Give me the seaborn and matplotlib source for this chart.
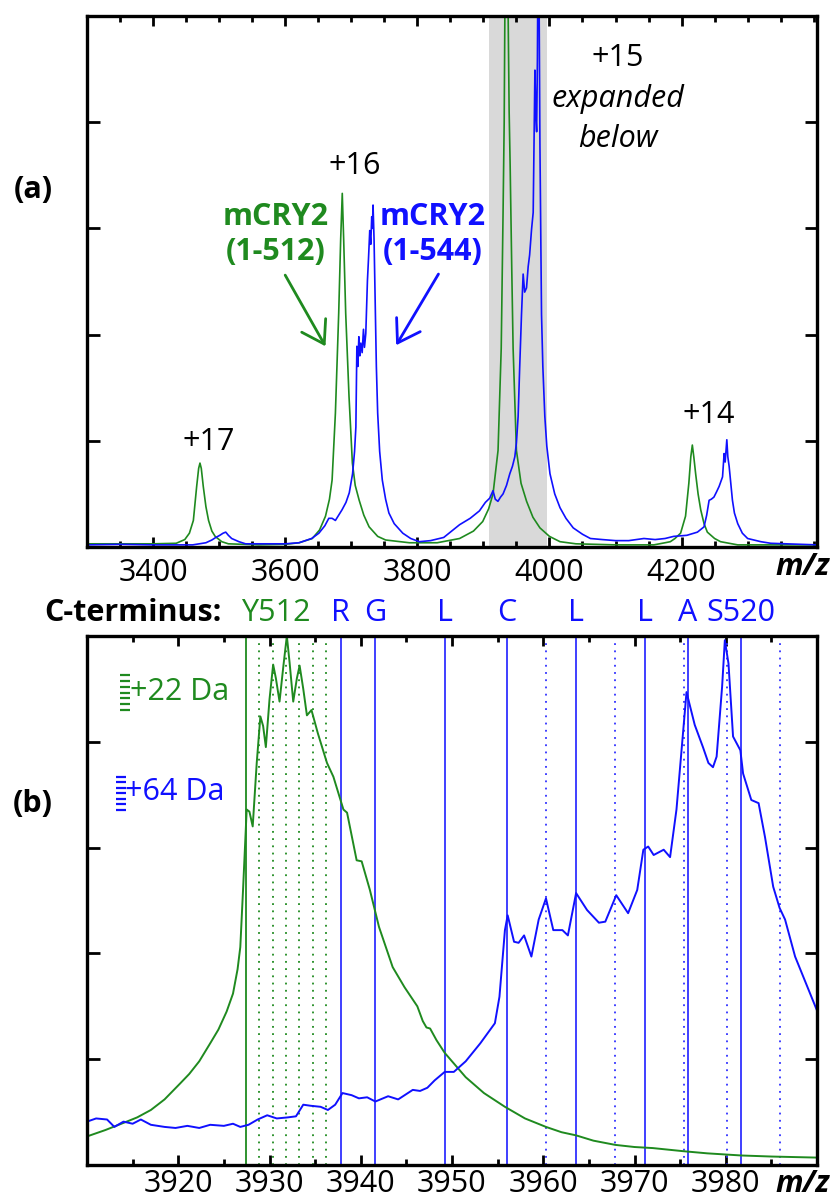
import matplotlib
matplotlib.use("Agg")
import matplotlib.pyplot as plt
import seaborn as sns
from matplotlib.patches import FancyArrowPatch
import matplotlib.transforms as mtransforms

# ---------------- data: panel (a) ----------------
green_a_mz = [3300, 3400, 3435, 3448, 3455, 3461, 3466, 3469, 3471, 3473, 3476, 3480, 3484, 3489, 3494,
              3504, 3514, 3560, 3600, 3621, 3641, 3652, 3661, 3667, 3671, 3676, 3681, 3684, 3686.4, 3688.5,
              3691.6, 3696.6, 3701.7, 3706, 3712, 3719, 3727, 3740, 3752, 3788, 3830, 3864, 3885, 3899,
              3908, 3914.6, 3922.2, 3927, 3929.8, 3931.5, 3932.5, 3934, 3935, 3936, 3937.5, 3939, 3940.5,
              3943, 3945, 3950, 3957, 3965.4, 3975, 3985.6, 4000, 4016, 4040, 4100, 4158, 4175, 4183, 4190,
              4198.5, 4206, 4211, 4214, 4216.3, 4218.5, 4221.3, 4225, 4229, 4234, 4239, 4250, 4259, 4285, 4405]
green_a_int = [0.03, 0.03, 0.035, 0.07, 0.13, 0.25, 0.57, 0.74, 0.79, 0.74, 0.57, 0.38, 0.25, 0.15, 0.10,
               0.05, 0.03, 0.02, 0.025, 0.04, 0.08, 0.16, 0.29, 0.45, 0.63, 1.26, 2.20, 2.90, 3.33, 2.90,
               2.20, 1.42, 0.79, 0.58, 0.44, 0.30, 0.19, 0.10, 0.066, 0.04, 0.04, 0.08, 0.15, 0.24,
               0.36, 0.50, 0.91, 1.87, 3.15, 4.0, 5.0, 6.1, 6.4, 6.1, 5.0, 4.1, 3.6,
               2.6, 1.87, 0.91, 0.60, 0.43, 0.28, 0.18, 0.10, 0.05, 0.03, 0.02, 0.02, 0.04, 0.05, 0.08,
               0.13, 0.29, 0.60, 0.85, 0.96, 0.85, 0.69, 0.50, 0.35, 0.22, 0.14, 0.08, 0.05, 0.02, 0.02]

blue_a_mz = [3300, 3350, 3400, 3460, 3480, 3489, 3495, 3501, 3506, 3510, 3514, 3519, 3530, 3540, 3600,
             3621, 3640, 3651, 3660, 3666, 3671, 3676, 3681, 3686, 3692, 3697, 3702, 3705, 3707, 3708.5,
             3710, 3711.5, 3713, 3714.5, 3716.5, 3718.5, 3720, 3722, 3724.5, 3726, 3728, 3729.5, 3731,
             3732, 3733, 3734.5, 3736, 3738, 3740, 3743, 3747, 3752, 3757, 3765, 3778, 3790, 3803, 3820,
             3840, 3864, 3880, 3894, 3903, 3909.6, 3914.6, 3918, 3922, 3926, 3929.8, 3935, 3940, 3944,
             3947.6, 3950, 3952.6, 3955, 3957.7, 3960.2, 3962.5, 3965.3, 3967.8, 3970, 3972.9, 3975.4,
             3976.5, 3978, 3979.5, 3980.6, 3981.8, 3982.6, 3983.4, 3984.2, 3985, 3985.6, 3987, 3988, 3990,
             3993, 3996, 4000.8, 4008, 4016, 4025, 4036, 4050, 4062, 4080, 4100, 4120, 4143, 4160, 4175,
             4188, 4208, 4224, 4234, 4238, 4241.7, 4245, 4249, 4253, 4256.8, 4262, 4264.4, 4266, 4268.5,
             4270, 4272, 4277, 4280, 4285, 4292, 4300, 4320, 4335, 4405]
blue_a_int = [0.02, 0.025, 0.02, 0.02, 0.04, 0.066, 0.09, 0.11, 0.13, 0.14, 0.11, 0.08, 0.05, 0.03, 0.03,
              0.04, 0.08, 0.13, 0.20, 0.27, 0.27, 0.25, 0.30, 0.35, 0.42, 0.51, 0.69, 0.90, 1.13, 1.89,
              1.70, 1.98, 1.80, 1.92, 1.83, 2.05, 1.88, 2.01, 2.51, 2.70, 2.98, 2.85, 3.11,
              3.00, 3.22, 2.90, 2.36, 1.70, 1.26, 0.90, 0.63, 0.45, 0.32, 0.22, 0.13, 0.08, 0.05, 0.06,
              0.09, 0.21, 0.27, 0.34, 0.42, 0.46, 0.53, 0.45, 0.43, 0.47, 0.50, 0.58, 0.69, 0.76,
              0.85, 0.98, 1.23, 1.70, 2.19, 2.57, 2.40, 2.44, 2.64, 2.75, 2.99, 3.15,
              3.70, 4.49, 4.05, 3.91, 4.60, 5.50, 5.90, 5.30, 4.40, 3.79, 2.90, 2.19, 1.70,
              1.23, 0.95, 0.69, 0.50, 0.37, 0.27, 0.18, 0.12, 0.08, 0.07, 0.06, 0.06, 0.08, 0.07, 0.08,
              0.10, 0.11, 0.14, 0.19, 0.30, 0.44, 0.45, 0.47, 0.52, 0.57, 0.66, 0.88, 0.80, 1.01,
              0.85, 0.76, 0.44, 0.32, 0.22, 0.13, 0.08, 0.05, 0.035, 0.02]

# ---------------- data: panel (b) ----------------
green_b_mz = [3910, 3912, 3914.35, 3915.5, 3917, 3918.5, 3920.2, 3921.2, 3922.3, 3923.5, 3924.4, 3925.3,
              3926, 3926.5, 3926.8, 3927.1, 3927.5, 3927.8, 3928.16, 3928.6, 3929, 3929.3, 3929.6, 3930,
              3930.4, 3930.7, 3931.1, 3931.5, 3931.9, 3932.2, 3932.6, 3933, 3933.3, 3933.7, 3934.1, 3934.6,
              3935.3, 3936.3, 3937, 3938.1, 3938.5, 3939.55, 3940.1, 3941, 3942, 3943.5, 3944.8, 3946.2,
              3946.8, 3947.2, 3947.6, 3948.3, 3949.2, 3950.3, 3951.5, 3953.5, 3955.8, 3958, 3960.3, 3962,
              3963.6, 3965.5, 3967.9, 3970, 3972, 3975.4, 3978, 3981.7, 3985, 3990]
green_b_int = [0.27, 0.33, 0.41, 0.45, 0.52, 0.62, 0.77, 0.86, 0.98, 1.15, 1.28, 1.45,
               1.62, 1.85, 2.06, 2.60, 3.36, 3.34, 3.20, 3.80, 4.24, 4.15, 3.95, 4.40,
               4.73, 4.60, 4.38, 4.70, 5.00, 4.75, 4.38, 4.60, 4.72, 4.50, 4.25, 4.30,
               4.08, 3.80, 3.67, 3.36, 3.33, 2.88, 2.87, 2.60, 2.25, 1.87, 1.68, 1.50,
               1.36, 1.30, 1.29, 1.18, 1.06, 0.95, 0.83, 0.68, 0.55, 0.44, 0.36, 0.31,
               0.28, 0.23, 0.19, 0.17, 0.16, 0.13, 0.11, 0.09, 0.08, 0.07]

blue_b_mz = [3910, 3911, 3912.2, 3913, 3914, 3915, 3915.9, 3917, 3918.5, 3919.7, 3921, 3922.3, 3923.5,
             3925, 3926, 3926.8, 3927.7, 3928.7, 3929.75, 3930.8, 3932, 3932.9, 3933.7, 3934.5, 3935.6,
             3936.4, 3937.2, 3938, 3939, 3939.8, 3940.7, 3941.6, 3943, 3944.1, 3945.7, 3946.5, 3947.3,
             3948.1, 3949.2, 3950.2, 3951.5, 3953.1, 3954.7, 3955.2, 3955.8, 3956.1, 3956.8, 3957.3,
             3957.9, 3958.7, 3959.5, 3960.3, 3961.1, 3962.1, 3962.7, 3963.6, 3964.8, 3966.1, 3966.8,
             3968, 3969.3, 3970.3, 3970.97, 3971.5, 3972.1, 3973.2, 3973.9, 3974.6, 3975.7, 3976.6,
             3977.5, 3978.1, 3978.6, 3979, 3979.6, 3979.9, 3980.3, 3980.8, 3981.6, 3981.9, 3982.8,
             3983.6, 3984.3, 3985.2, 3985.9, 3986.5, 3987.6, 3990]
blue_b_int = [0.41, 0.44, 0.43, 0.36, 0.41, 0.39, 0.43, 0.38, 0.36, 0.35, 0.37, 0.35, 0.38,
              0.37, 0.39, 0.36, 0.38, 0.43, 0.47, 0.44, 0.45, 0.46, 0.57, 0.56, 0.55,
              0.52, 0.57, 0.68, 0.66, 0.63, 0.64, 0.60, 0.65, 0.62, 0.71, 0.70, 0.73,
              0.80, 0.88, 0.88, 0.98, 1.15, 1.34, 1.59, 2.22, 2.36, 2.11, 2.10,
              2.17, 1.97, 2.32, 2.52, 2.22, 2.22, 2.17, 2.57, 2.41, 2.29, 2.30,
              2.55, 2.38, 2.60, 2.98, 3.01, 2.93, 2.98, 2.91, 3.36, 4.47, 4.16,
              3.95, 3.80, 3.76, 3.86, 4.52, 4.96, 4.74, 4.05, 3.92, 3.70, 3.45,
              3.42, 3.10, 2.63, 2.43, 2.32, 1.97, 1.46]

# residue marker positions (m/z) and labels
green_solid = [3927.4]
green_dotted = [3928.87, 3930.33, 3931.8, 3933.27, 3934.73, 3936.2]
blue_solid = [3937.8, 3941.6, 3949.2, 3956.0, 3963.6, 3971.15, 3975.85, 3981.65]
blue_dotted = [3960.25, 3967.85, 3975.4, 3980.1, 3985.9]
residue_labels = ["Y512", "R", "G", "L", "C", "L", "L", "A", "S520"]
residue_label_mz = [3930.7, 3937.8, 3941.6, 3949.2, 3956.0, 3963.6, 3971.15, 3975.85, 3981.65]
residue_label_colors = ["g", "b", "b", "b", "b", "b", "b", "b", "b"]

xticks_a = [3400, 3600, 3800, 4000, 4200]
xticks_b = [3920, 3930, 3940, 3950, 3960, 3970, 3980]
yticks = [1, 2, 3, 4]
shade_range = (3908, 3996)

# ---------------- style ----------------
sns.set_style("white")
plt.rcParams['font.family'] = ['Open Sans', 'DejaVu Sans']
plt.rcParams['text.color'] = 'black'
plt.rcParams['xtick.color'] = 'black'
plt.rcParams['ytick.color'] = 'black'
plt.rcParams['axes.edgecolor'] = 'black'
GREEN = '#1f8a1f'
BLUE = '#1010ff'
FS = 22

W, H = 836, 1202
fig = plt.figure(figsize=(W / 100, H / 100), dpi=100)
ax_a = fig.add_axes([87 / W, 1 - 547 / H, 730 / W, 531 / H])
ax_b = fig.add_axes([87 / W, 1 - 1165 / H, 730 / W, 529 / H])

def style_axis(ax, xlim, xticks, minor_step, pad):
    ax.set_xlim(*xlim)
    ax.set_ylim(0, 5)
    ax.set_xticks(xticks)
    ax.set_xticklabels([str(t) for t in xticks], fontsize=FS)
    ax.xaxis.set_minor_locator(matplotlib.ticker.MultipleLocator(minor_step))
    ax.set_yticks(yticks)
    ax.set_yticklabels([])
    ax.tick_params(axis='x', which='major', direction='in', top=True, bottom=True,
                   length=7, width=2, pad=pad, colors='black', labelsize=FS)
    ax.tick_params(axis='x', which='minor', direction='in', top=True, bottom=True,
                   length=4, width=2)
    ax.tick_params(axis='y', which='major', direction='in', left=True, right=True,
                   length=9, width=2)
    for sp in ax.spines.values():
        sp.set_linewidth(2.4)
        sp.set_color('black')
    ax.set_xlabel('')
    ax.set_ylabel('')

# ---------------- panel (a) ----------------
ax_a.axvspan(shade_range[0], shade_range[1], color='#d9d9d9', lw=0, zorder=0)
sns.lineplot(x=green_a_mz, y=green_a_int, ax=ax_a, color=GREEN, lw=1.2, sort=False, estimator=None)
sns.lineplot(x=blue_a_mz, y=blue_a_int, ax=ax_a, color=BLUE, lw=1.2, sort=False, estimator=None)
style_axis(ax_a, (3300, 4405), xticks_a, 50, 8)

ax_a.text(3484, 0.99, "+17", fontsize=FS, ha='center', va='center')
ax_a.text(3705, 3.59, "+16", fontsize=FS, ha='center', va='center')
ax_a.text(4241, 1.24, "+14", fontsize=FS, ha='center', va='center')
ax_a.text(4103, 4.60, "+15", fontsize=FS, ha='center', va='center')
ax_a.text(4103, 4.22, "expanded", fontsize=FS, ha='center', va='center', style='italic')
ax_a.text(4103, 3.84, "below", fontsize=FS, ha='center', va='center', style='italic')
ax_a.text(3585, 3.11, "mCRY2", fontsize=FS, ha='center', va='center', weight='bold', color=GREEN)
ax_a.text(3585, 2.78, "(1-512)", fontsize=FS, ha='center', va='center', weight='bold', color=GREEN)
ax_a.text(3823, 3.11, "mCRY2", fontsize=FS, ha='center', va='center', weight='bold', color=BLUE)
ax_a.text(3823, 2.78, "(1-544)", fontsize=FS, ha='center', va='center', weight='bold', color=BLUE)

for (x0, y0, x1, y1, c) in [(3600, 2.56, 3661, 1.89, GREEN), (3832, 2.57, 3768, 1.90, BLUE)]:
    arr = FancyArrowPatch((x0, y0), (x1, y1), arrowstyle='->,head_length=0.7,head_width=0.45',
                          mutation_scale=22, color=c, lw=2.0, shrinkA=0, shrinkB=0)
    ax_a.add_patch(arr)

# ---------------- panel (b) ----------------
for x in green_solid:
    ax_b.axvline(x, color=GREEN, lw=1.3, zorder=1)
for x in green_dotted:
    ax_b.axvline(x, color=GREEN, lw=1.3, ls=(0, (1, 3)), zorder=1)
for x in blue_solid:
    ax_b.axvline(x, color='#3030ff', lw=1.3, zorder=1)
for x in blue_dotted:
    ax_b.axvline(x, color='#3030ff', lw=1.3, ls=(0, (1, 3)), zorder=1)

sns.lineplot(x=green_b_mz, y=green_b_int, ax=ax_b, color=GREEN, lw=1.4, sort=False, estimator=None)
sns.lineplot(x=blue_b_mz, y=blue_b_int, ax=ax_b, color=BLUE, lw=1.4, sort=False, estimator=None)
style_axis(ax_b, (3910, 3990), xticks_b, 5, 3)

trans_b = mtransforms.blended_transform_factory(ax_b.transData, ax_b.transAxes)
for lab, xm, c in zip(residue_labels, residue_label_mz, residue_label_colors):
    ax_b.text(xm, (1165 - 613) / 529, lab, transform=trans_b, fontsize=FS, ha='center', va='center',
              color=GREEN if c == 'g' else BLUE, clip_on=False)

# small dotted legend markers
ax_b.plot([3914.2] * 7, [4.30 + i * 0.055 for i in range(7)], ls='none', marker='_',
          ms=7, mew=1.6, color=GREEN)
ax_b.text(3914.7, 4.47, "+22 Da", fontsize=FS, ha='left', va='center', color=GREEN)
ax_b.plot([3913.7] * 7, [3.36 + i * 0.052 for i in range(7)], ls='none', marker='_',
          ms=7, mew=1.6, color=BLUE)
ax_b.text(3914.2, 3.53, "+64 Da", fontsize=FS, ha='left', va='center', color=BLUE)

# ---------------- figure texts ----------------
fig.text(33 / W, 1 - 190 / H, "(a)", fontsize=FS, weight='bold', ha='center', va='center')
fig.text(33 / W, 1 - 804 / H, "(b)", fontsize=FS, weight='bold', ha='center', va='center')
fig.text(222 / W, 1 - 613 / H, "C-terminus:", fontsize=FS, weight='bold', ha='right', va='center')
fig.text(830 / W, 1 - 567 / H, "m/z", fontsize=FS, weight='bold', style='italic', ha='right', va='center')
fig.text(830 / W, 1 - 1184 / H, "m/z", fontsize=FS, weight='bold', style='italic', ha='right', va='center')

fig.savefig("out.png", dpi=100)
